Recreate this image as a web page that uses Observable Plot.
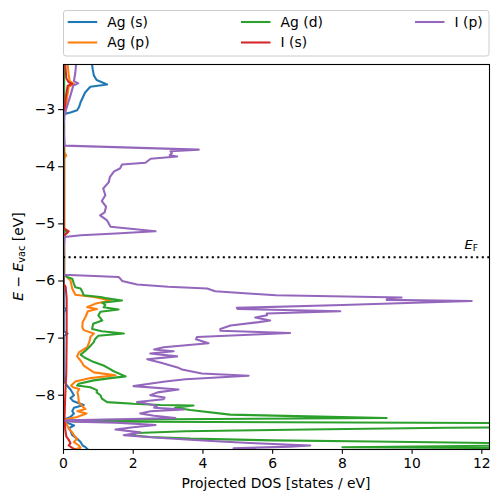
<!DOCTYPE html>
<html><head><meta charset="utf-8">
<script src="https://cdn.jsdelivr.net/npm/d3@7"></script>
<script src="https://cdn.jsdelivr.net/npm/@observablehq/plot@0.6"></script>
<style>body{margin:0;background:#fff;} svg{font-family:"DejaVu Sans",sans-serif;}</style>
</head><body><div id="chart"></div>
<script>
// Energy (eV, relative to vacuum) and projected DOS (states/eV)
const agS = [
[-2.21,0.82],[-2.30,0.84],[-2.40,0.87],[-2.48,0.95],[-2.56,1.25],[-2.60,0.77],[-2.70,0.62],
[-2.87,0.49],[-2.95,0.45],[-3.01,0.39],[-3.05,0.2],[-3.07,0.06],[-3.10,0.01],[-6.45,0.01],
[-6.50,0.06],[-6.55,0.01],[-6.88,0.01],[-6.92,0.12],[-6.96,0.01],[-7.75,0.01],[-7.83,0.1],
[-7.90,0.2],[-8.00,0.3],[-8.05,0.2],[-8.10,0.27],[-8.17,0.58],[-8.22,0.3],[-8.28,0.25],
[-8.32,0.3],[-8.38,0.2],[-8.43,0.01],[-8.48,0.1],[-8.53,0.3],[-8.58,0.15],[-8.62,0.2],
[-8.70,0.25],[-8.76,0.39],[-8.82,0.49],[-8.88,0.55],[-8.91,0.63],[-8.95,0.7]
];
const agP = [
[-2.21,0.12],[-2.40,0.15],[-2.50,0.18],[-2.55,0.30],[-2.60,0.15],[-2.80,0.10],[-3.05,0.05],
[-3.10,0.01],[-3.75,0.02],[-3.80,0.08],[-3.85,0.02],[-5.10,0.02],[-5.15,0.1],[-5.20,0.02],
[-5.89,0.02],[-5.93,0.10],[-5.99,0.20],[-6.13,0.25],[-6.24,0.34],[-6.28,0.87],[-6.34,1.35],
[-6.40,0.9],[-6.46,0.68],[-6.49,0.96],[-6.53,0.7],[-6.63,0.63],[-6.72,0.55],[-6.81,0.54],
[-6.86,0.58],[-6.92,0.87],[-6.98,0.77],[-7.05,0.75],[-7.16,0.68],[-7.25,0.44],[-7.32,0.39],
[-7.40,0.5],[-7.48,0.58],[-7.60,0.87],[-7.65,1.49],[-7.70,0.77],[-7.76,0.34],[-7.83,0.22],
[-7.86,0.27],[-7.89,0.45],[-7.95,0.4],[-8.00,0.42],[-8.12,0.44],[-8.20,0.55],[-8.24,0.63],
[-8.28,0.4],[-8.32,0.66],[-8.38,0.39],[-8.43,0.02],[-8.47,0.05],[-8.52,0.1],[-8.58,0.15],
[-8.65,0.25],[-8.70,0.3],[-8.76,0.39],[-8.82,0.3],[-8.88,0.44],[-8.92,0.49],[-8.95,0.3]
];
const agD = [
[-2.21,0.02],[-3.0,0.02],[-5.10,0.02],[-5.15,0.12],[-5.20,0.02],[-5.89,0.02],[-5.93,0.10],
[-5.96,0.25],[-6.05,0.30],[-6.11,0.34],[-6.13,0.49],[-6.20,0.55],[-6.25,0.58],[-6.28,1.06],
[-6.30,1.2],[-6.34,1.68],[-6.38,1.11],[-6.42,1.2],[-6.46,1.15],[-6.50,1.58],[-6.54,1.06],
[-6.60,1.0],[-6.69,1.11],[-6.75,0.85],[-6.84,0.82],[-6.88,1.1],[-6.92,1.73],[-6.96,1.0],
[-7.02,0.9],[-7.07,0.87],[-7.15,0.75],[-7.22,0.63],[-7.29,0.49],[-7.34,0.6],[-7.42,0.87],
[-7.48,1.15],[-7.53,1.3],[-7.58,1.44],[-7.67,1.78],[-7.70,1.35],[-7.74,0.87],[-7.80,0.44],
[-7.83,0.39],[-7.86,0.77],[-7.91,0.96],[-7.95,0.95],[-8.00,1.06],[-8.06,1.1],[-8.12,1.25],
[-8.15,2.0],[-8.17,2.78],[-8.18,3.73],[-8.22,3.2],[-8.26,3.64],[-8.34,4.78],[-8.37,7.0],
[-8.40,9.27],[-8.42,3.0],[-8.44,0.2],[-8.46,0.3],[-8.49,14],[-8.52,20],[-8.555,14],
[-8.57,11],[-8.60,7],[-8.63,3.5],[-8.66,2.1],[-8.70,1.92],[-8.73,2.5],[-8.76,3.64],
[-8.79,6.0],[-8.81,8.9],[-8.85,14],[-8.88,13],[-8.91,8.0],[-8.93,14],[-8.95,14]
];
const iS = [
[-2.21,0.05],[-2.45,0.08],[-2.52,0.15],[-2.55,0.25],[-2.58,0.12],[-2.80,0.06],[-3.05,0.03],
[-3.10,0.0],[-5.08,0.01],[-5.13,0.15],[-5.20,0.03],[-5.22,0.0],[-6.05,0.0],[-6.10,0.06],
[-6.30,0.09],[-7.00,0.09],[-7.60,0.08],[-8.00,0.05],[-8.40,0.03],[-8.60,0.05],[-8.72,0.08],
[-8.78,0.15],[-8.84,0.2],[-8.88,0.15],[-8.92,0.25],[-8.95,0.33]
];
const iP = [
[-2.21,0.36],[-2.35,0.34],[-2.50,0.30],[-2.54,0.42],[-2.58,0.28],[-2.75,0.20],[-2.95,0.10],
[-3.07,0.03],[-3.30,0.0],[-3.63,0.03],[-3.70,3.88],[-3.73,3.07],[-3.76,3.11],[-3.80,3.05],
[-3.82,3.26],[-3.86,2.5],[-3.93,2.35],[-3.96,1.68],[-4.03,1.62],[-4.08,1.45],[-4.18,1.33],
[-4.27,1.30],[-4.38,1.14],[-4.50,1.2],[-4.60,1.10],[-4.70,1.22],[-4.80,1.18],[-4.85,1.05],
[-4.94,1.25],[-5.05,1.35],[-5.09,2.0],[-5.13,2.64],[-5.17,1.5],[-5.20,0.5],[-5.23,0.03],
[-5.50,0.0],[-5.89,0.0],[-5.93,1.58],[-5.96,1.63],[-6.00,1.68],[-6.06,2.11],[-6.10,3.0],
[-6.13,4.12],[-6.18,4.35],[-6.22,5.3],[-6.25,6.1],[-6.29,9.7],[-6.30,9.3],[-6.33,9.27],
[-6.35,11.71],[-6.42,8.0],[-6.47,4.97],[-6.49,5.0],[-6.53,7.94],[-6.57,5.83],[-6.60,5.84],
[-6.64,5.5],[-6.69,5.93],[-6.72,5.6],[-6.78,4.79],[-6.84,4.5],[-6.87,4.5],[-6.91,6.5],
[-6.98,3.83],[-7.02,3.8],[-7.09,4.16],[-7.16,2.87],[-7.20,2.6],[-7.23,3.16],[-7.27,2.49],
[-7.32,3.26],[-7.37,2.4],[-7.43,2.8],[-7.48,3.07],[-7.52,3.3],[-7.55,3.4],[-7.62,3.97],
[-7.66,5.31],[-7.72,3.5],[-7.76,2.92],[-7.84,2.01],[-7.90,3.3],[-7.95,2.7],[-8.00,2.49],
[-8.04,2.9],[-8.07,2.87],[-8.12,2.11],[-8.15,2.4],[-8.19,2.68],[-8.22,2.6],[-8.25,3.45],
[-8.28,2.5],[-8.32,2.2],[-8.36,2.6],[-8.40,3.21],[-8.42,1.63],[-8.44,0.06],[-8.46,0.1],
[-8.48,1.5],[-8.52,2.64],[-8.56,2.0],[-8.60,1.49],[-8.65,2.2],[-8.70,1.73],[-8.74,2.6],
[-8.78,3.64],[-8.81,4.5],[-8.84,5.5],[-8.88,7.08],[-8.90,6.5],[-8.93,4.88],[-8.95,5.5]
];
const seriesNames = ["Ag (s)","Ag (p)","Ag (d)","I (s)","I (p)"];
const seriesColors = ["#1f77b4","#ff7f0e","#2ca02c","#d62728","#9467bd"];
const seriesData = [agS, agP, agD, iS, iP];
const fermiLevel = -5.585;
const xTicks = [0,2,4,6,8,10,12];
const yTicks = [-8,-7,-6,-5,-4,-3];
const xDomain = [0, 12.22];
const yDomain = [-8.95, -2.21];

const FS = 13.9; // 10 pt at 100 dpi
const LW = 2.08; // 1.5 pt
const fmt = d => d < 0 ? "\u2212" + Math.abs(d) : String(d);

const lineMarks = seriesData.map((s, i) =>
  Plot.line(s.map(([E, dos]) => ({E, dos})), {
    x: "dos", y: "E", stroke: seriesColors[i], strokeWidth: LW, clip: true
  })
);

const plot = Plot.plot({
  width: 499, height: 502,
  marginLeft: 63, marginRight: 10, marginTop: 64, marginBottom: 53,
  style: {fontFamily: "DejaVu Sans", fontSize: FS + "px", color: "black", background: "white"},
  x: {domain: xDomain},
  y: {domain: yDomain},
  marks: [
    ...lineMarks,
    Plot.ruleY([fermiLevel], {stroke: "black", strokeWidth: LW, strokeDasharray: "2.08,3.43"}),
    Plot.frame({stroke: "black", strokeWidth: 1.1}),
    Plot.axisX({ticks: xTicks, tickSize: 4.86, tickPadding: 3.5, tickFormat: fmt, fontSize: FS, label: null, strokeWidth: 1.1}),
    Plot.axisY({ticks: yTicks, tickSize: 4.86, tickPadding: 3.5, tickFormat: fmt, fontSize: FS, label: null, strokeWidth: 1.1})
  ]
});
document.getElementById("chart").appendChild(plot);

const svg = d3.select(plot);
const ys = plot.scale("y");

// Fermi level label
const efY = ys.apply(fermiLevel);
const ef = svg.append("text").attr("x", 464.5).attr("y", efY - 8.2).attr("text-anchor", "start")
  .attr("font-size", 13).attr("fill", "black");
ef.append("tspan").attr("font-style", "italic").text("E");
ef.append("tspan").attr("font-size", 9.1).attr("dy", 2.2).text("F");

// Axis labels
svg.append("text").attr("x", (63 + 489) / 2).attr("y", 487.5).attr("text-anchor", "middle")
  .attr("font-size", FS).attr("fill", "black").text("Projected DOS [states / eV]");
const yl = svg.append("text").attr("transform", "translate(22.5,256.5) rotate(-90)")
  .attr("text-anchor", "middle").attr("font-size", FS).attr("fill", "black");
yl.append("tspan").attr("font-style", "italic").text("E");
yl.append("tspan").text(" \u2212 ");
yl.append("tspan").attr("font-style", "italic").text("E");
yl.append("tspan").attr("font-size", 9.7).attr("dy", 2.2).text("vac");
yl.append("tspan").attr("dy", -2.2).text(" [eV]");

// Legend
const lg = svg.append("g");
lg.append("rect").attr("x", 63.5).attr("y", 10.5).attr("width", 425.5).attr("height", 45.5)
  .attr("rx", 2.5).attr("fill", "white").attr("fill-opacity", 0.8).attr("stroke", "#cccccc").attr("stroke-width", 1);
const colX = [67.7, 241, 415];
const rowY = [22, 42.5];
seriesNames.forEach((name, i) => {
  const cx = colX[Math.floor(i / 2)], cy = rowY[i % 2];
  lg.append("line").attr("x1", cx).attr("x2", cx + 29.5).attr("y1", cy).attr("y2", cy)
    .attr("stroke", seriesColors[i]).attr("stroke-width", LW);
  lg.append("text").attr("x", cx + 39.5).attr("y", cy).attr("dy", "0.35em").attr("text-anchor", "start")
    .attr("font-size", FS).attr("fill", "black").text(name);
});
</script></body></html>
